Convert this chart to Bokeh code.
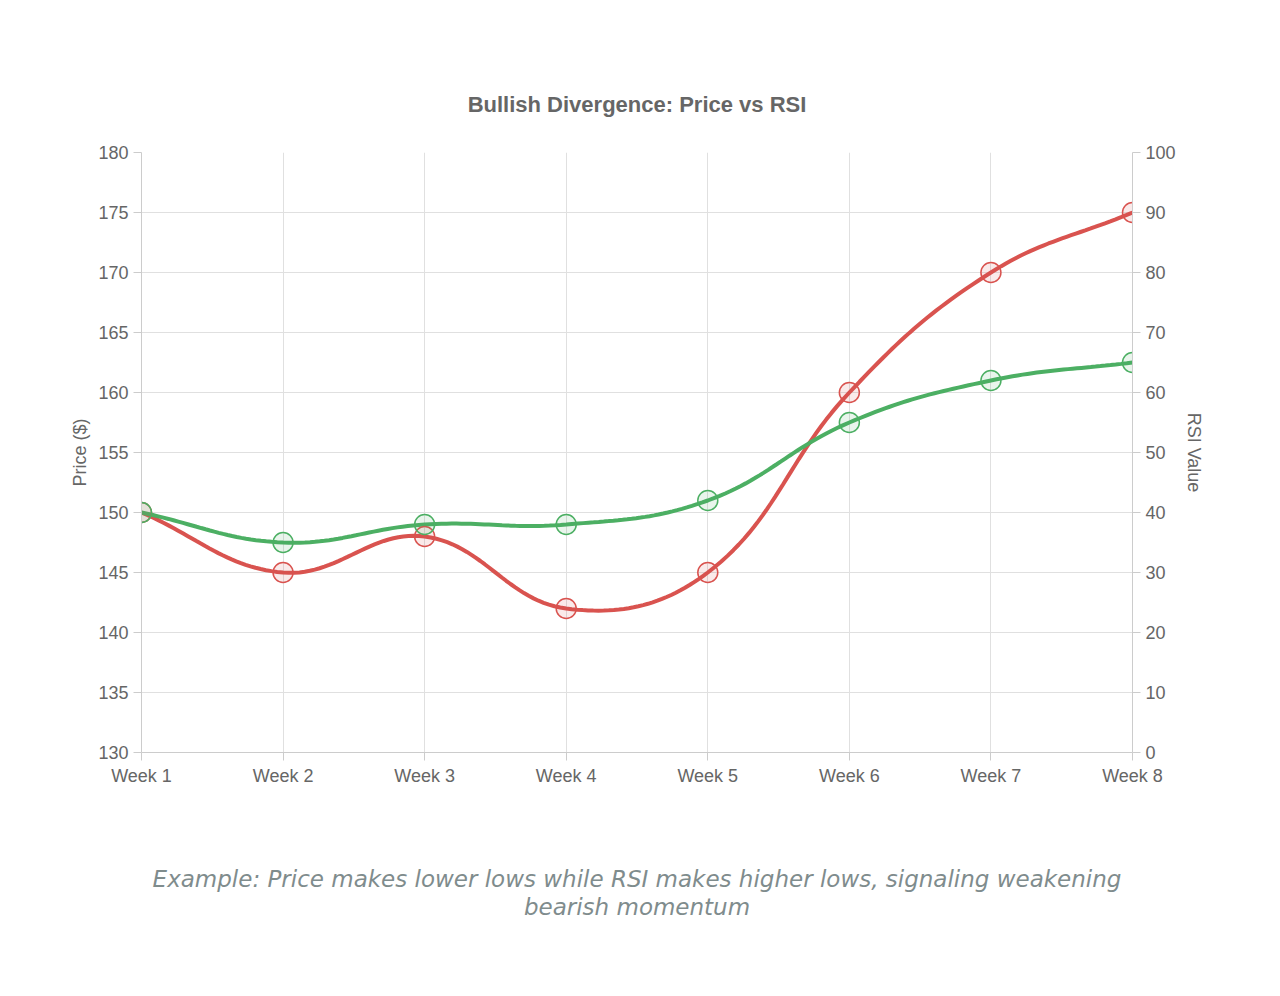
from bokeh.plotting import figure
from bokeh.models import Range1d, LinearAxis, FixedTicker, Legend, LegendItem, Title
from bokeh.embed import file_html
from bokeh.resources import INLINE
import numpy as np

weeks = ["Week 1","Week 2","Week 3","Week 4","Week 5","Week 6","Week 7","Week 8"]
price = [150,145,148,142,145,160,170,175]
rsi = [40,35,38,38,42,55,62,65]

RED = "#d9534f"; GREEN = "#4caf63"
FW, FH = 991.0, 600.0

def spline(vals, lo, hi, tension=0.4):
    n = len(vals)
    px = np.array([i*FW/(n-1) for i in range(n)])
    py = np.array([(hi-v)/(hi-lo)*FH for v in vals])
    cps = []
    for i in range(n):
        p0 = (px[max(i-1,0)], py[max(i-1,0)]); p1 = (px[i], py[i]); p2 = (px[min(i+1,n-1)], py[min(i+1,n-1)])
        d01 = np.hypot(p1[0]-p0[0], p1[1]-p0[1]); d12 = np.hypot(p2[0]-p1[0], p2[1]-p1[1])
        s01 = d01/(d01+d12) if d01+d12 else 0; s12 = d12/(d01+d12) if d01+d12 else 0
        fa, fb = tension*s01, tension*s12
        cps.append(((p1[0]-fa*(p2[0]-p0[0]), p1[1]-fa*(p2[1]-p0[1])),
                    (p1[0]+fb*(p2[0]-p0[0]), p1[1]+fb*(p2[1]-p0[1]))))
    xs, ys = [], []
    t = np.linspace(0,1,30)
    for i in range(n-1):
        P0 = np.array([px[i],py[i]]); P1 = np.array(cps[i][1]); P2 = np.array(cps[i+1][0]); P3 = np.array([px[i+1],py[i+1]])
        for tt in t:
            b = (1-tt)**3*P0 + 3*(1-tt)**2*tt*P1 + 3*(1-tt)*tt**2*P2 + tt**3*P3
            xs.append(b[0]/FW*(n-1)); ys.append(hi - b[1]/FH*(hi-lo))
    return xs, ys

p = figure(frame_width=991, frame_height=600, output_backend="svg", toolbar_location=None,
           x_range=Range1d(0,7), y_range=Range1d(130,180),
           min_border_left=141, min_border_right=120, min_border_top=152, min_border_bottom=40)
p.extra_y_ranges = {"rsi": Range1d(0,100)}
p.outline_line_color = None

FONT = "Liberation Sans"
p.title.text = "Bullish Divergence: Price vs RSI"
p.title.align = "center"; p.title.text_font = FONT; p.title.text_font_size = "22px"
p.title.text_color = "#666666"; p.title.offset = 0; p.title.standoff = 72

xs, ys = spline(price, 130, 180)
p.line(xs, ys, line_color=RED, line_width=4)
xs2, ys2 = spline(rsi, 0, 100)
p.line(xs2, ys2, line_color=GREEN, line_width=4, y_range_name="rsi")
xi = list(range(len(weeks)))
p.scatter(xi, price, size=20, fill_color=RED, fill_alpha=0.12, line_color=RED, line_width=1.5)
p.scatter(xi, rsi, size=20, fill_color=GREEN, fill_alpha=0.12, line_color=GREEN, line_width=1.5, y_range_name="rsi")

r1 = p.quad(left=[-20], right=[-19], bottom=[0], top=[1], fill_color=RED, fill_alpha=0.12, line_color=RED, line_width=4)
r2 = p.quad(left=[-20], right=[-19], bottom=[0], top=[1], fill_color=GREEN, fill_alpha=0.12, line_color=GREEN, line_width=4)
leg = Legend(items=[LegendItem(label="Price Action", renderers=[r1]), LegendItem(label="RSI Indicator", renderers=[r2])],
             orientation="horizontal", location=(255, 613), glyph_width=80, glyph_height=22,
             label_text_font=FONT, label_text_font_size="20px", label_text_color="#666666",
             border_line_color=None, background_fill_alpha=0, spacing=14, padding=2, margin=0, label_standoff=10)
p.add_layout(leg, "center")

p.xaxis.ticker = FixedTicker(ticks=xi)
p.xaxis.major_label_overrides = {i: w for i, w in enumerate(weeks)}
p.yaxis.ticker = FixedTicker(ticks=list(range(130,181,5)))
ra = LinearAxis(y_range_name="rsi", ticker=FixedTicker(ticks=list(range(0,101,10))), axis_label="RSI Value")
p.add_layout(ra, "right")
p.yaxis[0].axis_label = "Price ($)"
for ax in [p.xaxis[0], p.yaxis[0], ra]:
    ax.major_label_text_font = FONT; ax.major_label_text_font_size = "18px"
    ax.major_label_text_color = "#666666"; ax.axis_label_text_font = FONT
    ax.axis_label_text_font_size = "18px"; ax.axis_label_text_font_style = "normal"
    ax.axis_label_text_color = "#666666"; ax.axis_line_color = "#cccccc"
    ax.major_tick_line_color = "#cccccc"; ax.minor_tick_line_color = None
    ax.major_tick_out = 8; ax.major_tick_in = 0
p.xgrid.grid_line_color = "#e0e0e0"; p.ygrid.grid_line_color = "#e0e0e0"

p.add_layout(Title(text=" ", text_font_size="56px"), "below")
for txt in ["Example: Price makes lower lows while RSI makes higher lows, signaling weakening", "bearish momentum"]:
    t = Title(text=txt, align="center", text_font="DejaVu Sans", text_font_style="italic",
              text_font_size="23px", text_color="#7f8c8d", offset=0, standoff=0)
    p.add_layout(t, "below")

open("out.html", "w").write(file_html(p, INLINE))
